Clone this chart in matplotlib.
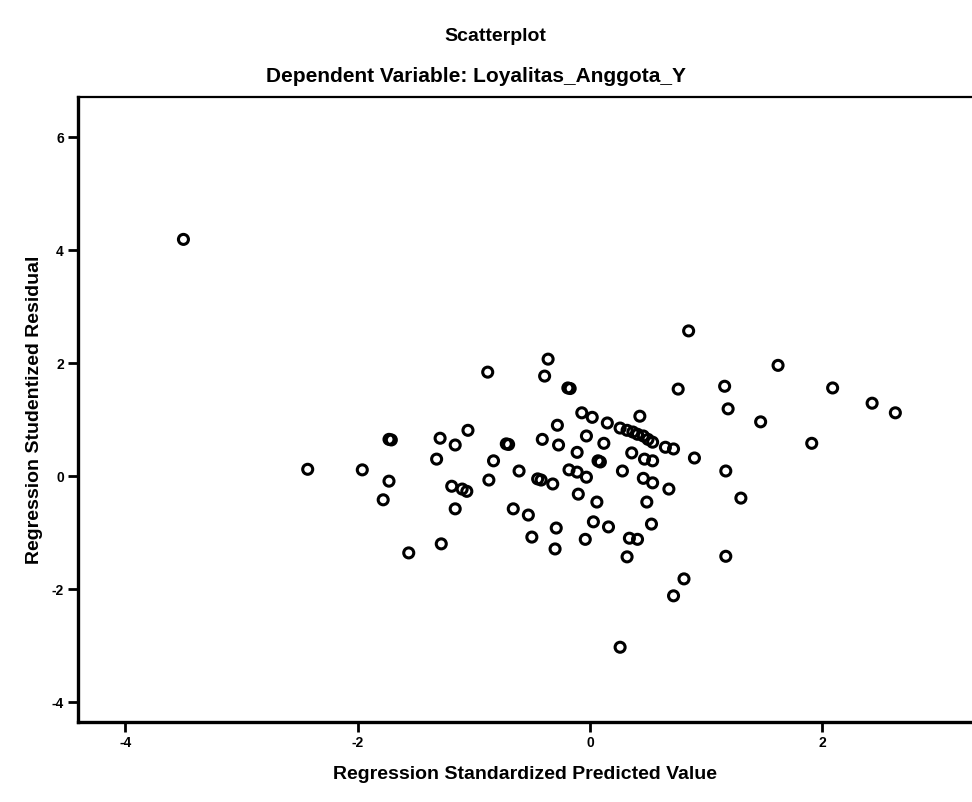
import matplotlib
matplotlib.use("Agg")
import matplotlib.pyplot as plt

plt.rcParams['font.family'] = ['Liberation Sans', 'DejaVu Sans']
plt.rcParams['axes.unicode_minus'] = False

# Regression standardized predicted value (x) vs studentized residual (y)
pred = [-3.50, -2.43, -1.96, -1.73, -1.71, -1.73, -1.78, -1.29, -1.16, -1.05,
        -1.32, -1.19, -1.10, -1.06, -1.16, -1.28, -1.56, -0.88, -0.83, -0.87,
        -0.72, -0.70, -0.61, -0.66, -0.53, -0.50, -0.45, -0.42, -0.41, -0.36,
        -0.39, -0.19, -0.17, -0.28, -0.27, -0.32, -0.29, -0.30, -0.07, 0.02,
        0.15, 0.26, 0.43, -0.03, 0.12, -0.11, 0.07, 0.09, 0.32, 0.37,
        0.41, 0.46, 0.50, 0.54, 0.65, 0.72, 0.90, 0.36, 0.47, 0.54,
        -0.18, -0.11, -0.03, 0.28, 0.46, 0.54, 0.68, -0.10, 0.06, 0.49,
        0.03, 0.16, 0.53, -0.04, 0.34, 0.41, 0.32, 0.81, 0.72, 0.26,
        0.85, 1.62, 0.76, 1.16, 2.09, 2.43, 2.63, 1.19, 1.47, 1.91,
        1.17, 1.30, 1.17]
resid = [4.19, 0.12, 0.11, 0.65, 0.64, -0.09, -0.42, 0.67, 0.55, 0.81,
         0.30, -0.18, -0.23, -0.27, -0.58, -1.20, -1.36, 1.84, 0.27, -0.07,
         0.57, 0.56, 0.09, -0.58, -0.69, -1.08, -0.05, -0.07, 0.65, 2.07,
         1.77, 1.56, 1.55, 0.90, 0.55, -0.14, -0.92, -1.29, 1.12, 1.04,
         0.94, 0.85, 1.06, 0.71, 0.58, 0.42, 0.27, 0.25, 0.81, 0.78,
         0.74, 0.71, 0.65, 0.60, 0.51, 0.48, 0.32, 0.41, 0.30, 0.27,
         0.11, 0.07, -0.02, 0.09, -0.04, -0.12, -0.23, -0.32, -0.46, -0.46,
         -0.81, -0.90, -0.85, -1.12, -1.10, -1.12, -1.43, -1.82, -2.12, -3.03,
         2.57, 1.96, 1.54, 1.59, 1.56, 1.29, 1.12, 1.19, 0.96, 0.58,
         0.09, -0.39, -1.42]

x_ticks = [-4, -2, 0, 2]
y_ticks = [-4, -2, 0, 2, 4, 6]

fig = plt.figure(figsize=(9.72, 8.02), dpi=100)
ax = fig.add_axes([0.080, 0.100, 0.920, 0.779])

ax.scatter(pred, resid, s=52, facecolors='none', edgecolors='black', linewidths=2.2)

ax.set_xticks(x_ticks)
ax.set_yticks(y_ticks)
# limits after the ticks so they are not widened
ax.set_xlim(-4.41, 3.29)
ax.set_ylim(-4.35, 6.71)
ax.tick_params(direction='out', length=7, width=2, labelsize=10, pad=3)
for lbl in ax.get_xticklabels() + ax.get_yticklabels():
    lbl.set_fontweight('bold')

for side in ['left', 'bottom']:
    ax.spines[side].set_linewidth(2.4)
ax.spines['top'].set_linewidth(1.6)
ax.spines['right'].set_visible(False)

ax.set_xlabel('Regression Standardized Predicted Value', fontsize=14, fontweight='bold', labelpad=12)
ax.set_ylabel('Regression Studentized Residual', fontsize=14, fontweight='bold', labelpad=6)

fig.text(0.51, 0.955, 'Scatterplot', ha='center', va='center', fontsize=14, fontweight='bold')
fig.text(0.49, 0.905, 'Dependent Variable: Loyalitas_Anggota_Y', ha='center', va='center',
         fontsize=15, fontweight='bold')

fig.savefig('out.png', dpi=100, facecolor='white')
